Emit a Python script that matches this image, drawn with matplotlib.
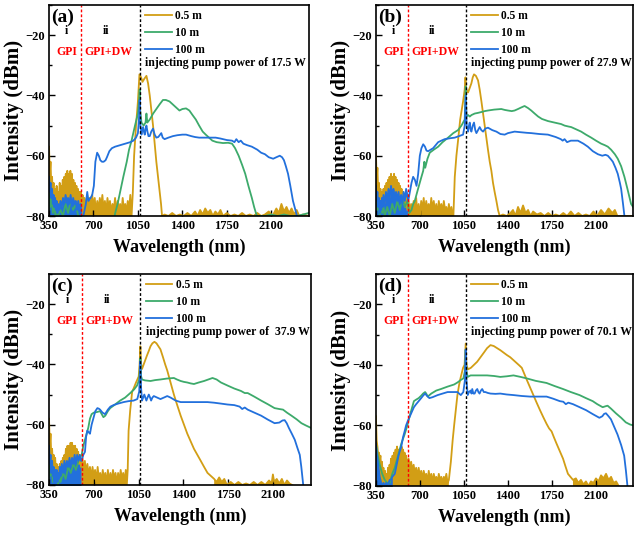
import numpy as np
import matplotlib
matplotlib.use('Agg')
import matplotlib.pyplot as plt
from matplotlib.ticker import MultipleLocator

plt.rcParams['font.family'] = ['Liberation Serif', 'DejaVu Serif']
plt.rcParams['font.weight'] = 'bold'
plt.rcParams['axes.labelweight'] = 'bold'

lengths = ['0.5 m', '10 m', '100 m']
colors = ['#D29E15', '#3DAA6B', '#2270DC']
tags = ['(a)', '(b)', '(c)', '(d)']
powers = ['17.5 W', '27.9 W', ' 37.9 W', '70.1 W']
xticks = [350, 700, 1050, 1400, 1750, 2100]
yticks = [-20, -40, -60, -80]

# (wavelength nm, intensity dBm)
a_gold = [(350, -57), (356, -66), (362, -62), (368, -70), (374, -67), (380, -73), (386, -69), (392, -75), (398, -71), (404, -74),
          (410, -70), (416, -76), (422, -72), (428, -74), (434, -69), (440, -73), (446, -70), (452, -72), (458, -68), (464, -71),
          (470, -67), (476, -70), (482, -66), (488, -69), (494, -65), (500, -68), (506, -66), (512, -70), (518, -65), (524, -69),
          (530, -66), (536, -71), (542, -68), (548, -72), (554, -69), (560, -73), (566, -70), (572, -74), (578, -71), (584, -75),
          (590, -72), (596, -76), (602, -72), (608, -77), (614, -73), (620, -76), (630, -74), (640, -78), (650, -73), (660, -77),
          (670, -74), (680, -78), (690, -73), (700, -77), (710, -74), (720, -79), (730, -75), (740, -78), (750, -74), (760, -77),
          (770, -73), (780, -78), (790, -75), (800, -79), (810, -74), (820, -77), (830, -75), (840, -79), (850, -76), (860, -78),
          (870, -74), (880, -79), (890, -75), (900, -78), (910, -76), (920, -79), (930, -74), (940, -78), (950, -76), (960, -79),
          (970, -75), (980, -78), (990, -73), (1000, -80), (1010, -72), (1020, -60), (1035, -50), (1050, -42), (1062, -33),
          (1075, -34), (1086, -35.5), (1100, -34.5), (1117, -33.5), (1130, -36), (1143, -40), (1156, -45), (1169, -50), (1182, -56),
          (1195, -62), (1208, -67), (1221, -72), (1232, -76), (1240, -80), (1260, -79.5), (1290, -80), (1320, -79), (1350, -80),
          (1380, -79.5), (1410, -80), (1440, -79), (1470, -80), (1500, -78.5), (1520, -80), (1540, -78), (1560, -79.5), (1580, -77.5),
          (1600, -79), (1620, -78), (1640, -80), (1660, -78.5), (1680, -79.5), (1700, -78), (1720, -80), (1750, -79), (1780, -80),
          (1810, -79.5), (1840, -80), (1870, -79), (1900, -80), (1930, -79.5), (1960, -80), (1990, -79), (2020, -80), (2050, -79.5),
          (2080, -78.5), (2110, -80), (2140, -77.5), (2160, -79), (2180, -76), (2200, -78.5), (2220, -77), (2240, -79), (2260, -77.5),
          (2280, -79.5), (2300, -78), (2320, -80), (2350, -79.5), (2395, -80)]
a_green = [(350, -70), (360, -77), (370, -74), (380, -79), (390, -76), (400, -80), (410, -77), (420, -80), (440, -78), (460, -80),
           (480, -76), (500, -79), (520, -75), (540, -78), (560, -76), (580, -80), (600, -80), (610, -84), (850, -84), (871, -79),
           (890, -76), (910, -72), (935, -67), (962, -62), (980, -58), (1000, -55), (1027, -50), (1050, -46), (1060, -41), (1064, -38),
           (1068, -45), (1078, -49), (1095, -50), (1110, -49), (1117, -46), (1124, -49), (1143, -48), (1170, -46), (1195, -44.5),
           (1220, -43), (1247, -41.5), (1270, -41.5), (1299, -42), (1325, -43), (1351, -44), (1377, -45), (1400, -44.5), (1429, -44.3),
           (1455, -45), (1480, -46.5), (1506, -48), (1532, -50), (1560, -52), (1584, -53), (1610, -54), (1636, -55), (1670, -55.5),
           (1720, -55.8), (1760, -55.7), (1791, -56), (1815, -57.5), (1843, -60), (1870, -63), (1895, -66), (1920, -70), (1947, -74),
           (1965, -77), (1986, -80), (2050, -80), (2100, -79.5), (2150, -80), (2200, -79.5), (2250, -80), (2300, -80), (2350, -79.5),
           (2395, -79)]
a_blue = [(350, -67), (356, -72), (362, -69), (368, -74), (374, -71), (380, -76), (386, -73), (392, -77), (398, -74), (404, -78),
          (410, -75), (416, -79), (422, -76), (430, -78), (440, -75), (450, -77), (460, -74), (470, -76), (480, -73), (490, -75),
          (500, -74), (510, -76), (520, -73), (530, -77), (540, -74), (550, -76), (560, -75), (570, -78), (580, -75), (590, -78),
          (600, -76), (605, -80), (620, -80), (640, -76), (651, -72), (660, -75), (677, -74), (690, -73), (703, -70), (715, -62),
          (729, -59), (742, -60), (754, -61.5), (767, -62), (780, -62), (795, -61.5), (806, -60.5), (825, -58.5), (845, -57.5),
          (870, -57), (910, -56.5), (950, -56), (990, -55.5), (1014, -55), (1035, -54), (1050, -52.5), (1058, -48), (1064, -41.5),
          (1070, -50), (1078, -53), (1085, -51), (1091, -50.5), (1097, -52), (1104, -53), (1111, -51), (1117, -50), (1125, -52),
          (1133, -53.5), (1143, -53.5), (1155, -52), (1169, -51), (1182, -53), (1195, -54), (1210, -53.8), (1225, -53), (1234, -52.5),
          (1245, -54), (1260, -54.5), (1290, -54), (1325, -53.5), (1360, -53.2), (1400, -53), (1429, -53), (1470, -53.5), (1500, -53.8),
          (1532, -54), (1580, -54), (1620, -54), (1662, -54), (1700, -54.3), (1750, -54.8), (1791, -55), (1810, -55.5), (1825, -54.5),
          (1843, -55.5), (1860, -55), (1880, -56), (1910, -56.5), (1947, -57), (1990, -58), (2020, -59), (2050, -59.5), (2080, -60.5),
          (2115, -61), (2140, -60.5), (2167, -60), (2185, -60.5), (2200, -61.5), (2215, -63.5), (2232, -66), (2250, -70), (2271, -75),
          (2290, -78), (2302, -80), (2320, -84)]

b_gold = [(350, -59), (356, -68), (362, -64), (368, -72), (374, -69), (380, -75), (386, -71), (392, -76), (398, -72), (404, -75),
          (410, -71), (416, -74), (422, -70), (428, -73), (434, -69), (440, -72), (446, -68), (452, -71), (458, -67), (464, -70),
          (470, -66), (476, -69), (482, -67), (488, -70), (494, -66), (500, -69), (506, -67), (512, -71), (518, -68), (524, -72),
          (530, -69), (536, -73), (542, -70), (548, -74), (554, -71), (560, -75), (566, -72), (572, -76), (578, -73), (584, -77),
          (590, -74), (600, -78), (610, -75), (620, -79), (630, -76), (640, -79), (650, -75), (660, -78), (670, -74), (680, -79),
          (690, -76), (700, -80), (710, -75), (720, -78), (730, -74), (740, -79), (750, -75), (760, -78), (770, -76), (780, -79),
          (790, -74), (800, -78), (810, -75), (820, -79), (830, -76), (840, -80), (850, -75), (860, -78), (870, -76), (880, -79),
          (890, -75), (900, -78), (910, -77), (920, -80), (930, -76), (940, -79), (950, -77), (960, -80), (966, -80), (977, -67),
          (990, -60), (1003, -55), (1020, -48), (1043, -42), (1056, -38), (1062, -34), (1068, -38), (1083, -39), (1096, -37.5),
          (1109, -36), (1120, -34), (1130, -33), (1145, -33.5), (1162, -35), (1175, -38), (1189, -42), (1202, -46), (1215, -50),
          (1228, -54), (1241, -58), (1255, -62), (1268, -65), (1281, -69), (1294, -72), (1308, -75), (1321, -78), (1334, -80),
          (1360, -79.5), (1390, -80), (1420, -79), (1440, -78), (1460, -80), (1480, -77), (1500, -79), (1520, -76.5), (1540, -79),
          (1560, -78), (1580, -80), (1600, -78.5), (1630, -79.5), (1660, -79), (1690, -80), (1720, -79), (1750, -80), (1780, -79.5),
          (1810, -80), (1840, -79), (1870, -80), (1900, -78.5), (1930, -80), (1960, -79), (1990, -80), (2020, -79.5), (2050, -80),
          (2080, -78.5), (2110, -80), (2140, -78), (2170, -79.5), (2200, -77.5), (2230, -79), (2250, -78), (2270, -80), (2395, -80)]
b_green = [(350, -72), (360, -78), (370, -75), (380, -80), (390, -76), (400, -79), (410, -77), (420, -80), (440, -77), (460, -80),
           (480, -76), (500, -79), (520, -75), (540, -78), (560, -74), (580, -77), (600, -75), (615, -79), (633, -78), (646, -76),
           (659, -75), (685, -71), (712, -67), (726, -65), (735, -62), (742, -64), (760, -61), (778, -59), (810, -58), (845, -57),
           (880, -55.5), (924, -54), (965, -52.5), (1003, -51.5), (1030, -50), (1056, -48), (1064, -37), (1070, -47), (1083, -46.5),
           (1096, -47), (1110, -46.5), (1136, -46), (1160, -45.8), (1189, -45.5), (1215, -45.2), (1241, -45), (1290, -44.7),
           (1347, -44.5), (1374, -44.8), (1400, -45), (1430, -45.2), (1453, -45), (1480, -44.5), (1505, -44), (1532, -43.5),
           (1560, -44.2), (1585, -45), (1612, -46), (1640, -47), (1670, -47.8), (1718, -48.5), (1770, -49), (1823, -49.5), (1850, -50),
           (1880, -50.3), (1903, -50.5), (1940, -51.2), (1982, -52), (2020, -53), (2062, -54), (2100, -55), (2141, -56), (2170, -56.5),
           (2194, -57), (2220, -58), (2250, -59.5), (2273, -61), (2300, -63.5), (2326, -67), (2350, -71), (2379, -76), (2395, -77)]
b_blue = [(350, -70), (356, -75), (362, -72), (368, -77), (374, -74), (380, -79), (386, -75), (392, -78), (398, -74), (404, -77),
          (410, -73), (420, -76), (430, -72), (440, -75), (450, -71), (460, -74), (470, -70), (480, -73), (490, -71), (500, -74),
          (510, -72), (520, -75), (530, -72), (540, -76), (550, -73), (560, -76), (570, -72), (580, -75), (590, -71), (600, -73),
          (607, -75), (620, -72), (633, -69), (646, -67), (660, -68), (673, -70), (686, -66), (699, -60), (712, -57.5), (726, -56.2),
          (740, -57), (752, -58.3), (765, -58.5), (785, -58), (805, -57.5), (825, -56.5), (845, -55.5), (870, -55), (897, -54.5),
          (940, -54.2), (977, -54), (1010, -53.5), (1043, -53), (1056, -50), (1064, -40), (1072, -50), (1083, -52), (1090, -50),
          (1096, -49), (1102, -51), (1109, -52), (1120, -50), (1130, -49), (1140, -51.5), (1149, -52.5), (1162, -51.5), (1175, -50.5),
          (1188, -51.5), (1202, -52), (1220, -51), (1241, -50.7), (1275, -51.5), (1308, -52), (1340, -52.8), (1374, -53), (1400, -52.5),
          (1453, -52), (1500, -52.2), (1550, -52.4), (1585, -52.5), (1650, -52.8), (1718, -53), (1780, -53.8), (1820, -54.5),
          (1835, -55), (1850, -54.5), (1870, -55.5), (1900, -55), (1956, -55), (2000, -56), (2035, -57), (2075, -58.5), (2115, -59.5),
          (2150, -60), (2175, -59.7), (2194, -60), (2215, -61), (2234, -62), (2255, -64), (2273, -66), (2290, -69), (2300, -71),
          (2315, -76), (2326, -80), (2340, -84)]

c_gold = [(350, -58), (356, -67), (362, -63), (368, -71), (374, -68), (380, -73), (386, -70), (392, -75), (398, -71), (404, -76),
          (410, -73), (416, -77), (422, -74), (428, -78), (434, -73), (440, -76), (446, -72), (452, -75), (458, -71), (464, -74),
          (470, -70), (476, -72), (482, -68), (488, -71), (494, -67), (500, -70), (506, -67), (512, -69), (518, -66), (524, -68),
          (530, -66), (536, -69), (542, -67), (548, -70), (554, -67), (560, -71), (566, -68), (572, -72), (578, -69), (584, -73),
          (590, -70), (600, -74), (610, -71), (620, -75), (630, -72), (640, -76), (650, -73), (660, -77), (670, -74), (680, -78),
          (690, -74), (700, -77), (710, -75), (720, -79), (730, -74), (740, -78), (750, -76), (760, -79), (770, -75), (780, -78),
          (790, -76), (800, -80), (810, -75), (820, -79), (830, -76), (840, -79), (850, -75), (860, -78), (870, -76), (880, -80),
          (890, -76), (900, -79), (910, -75), (920, -78), (930, -76), (940, -79), (950, -75), (958, -80), (965, -75), (972, -62),
          (985, -55), (1000, -49), (1011, -48), (1030, -46), (1051, -44), (1058, -40), (1064, -34), (1070, -40), (1077, -41.5),
          (1090, -40), (1103, -38.5), (1116, -37), (1130, -35.5), (1143, -34), (1158, -33), (1174, -32.5), (1190, -33), (1205, -34),
          (1221, -35), (1240, -37.5), (1258, -40), (1274, -42), (1300, -46), (1326, -50), (1352, -53.5), (1379, -57), (1405, -60),
          (1431, -63), (1457, -65.5), (1483, -68), (1510, -70), (1536, -72), (1562, -74), (1589, -76), (1615, -77), (1641, -78),
          (1660, -79), (1680, -77.5), (1700, -79), (1720, -78), (1740, -80), (1770, -79), (1800, -80), (1830, -79), (1860, -80),
          (1890, -79.5), (1920, -80), (1950, -79), (1980, -80), (2010, -79), (2040, -80), (2070, -78.5), (2090, -79.5), (2100, -76.5),
          (2110, -79), (2130, -78), (2150, -79.5), (2170, -78), (2190, -80), (2210, -78.5), (2230, -79.5), (2250, -80), (2395, -84)]
c_green = [(350, -72), (360, -77), (370, -74), (380, -79), (390, -75), (400, -78), (410, -76), (420, -80), (430, -77), (440, -79),
           (460, -76), (480, -78), (500, -74), (520, -76), (540, -73), (560, -75), (580, -72), (605, -70), (618, -67), (631, -65),
           (644, -63), (657, -61), (670, -58), (683, -56.5), (700, -56), (725, -55.8), (749, -55.5), (762, -56.5), (775, -57.5),
           (790, -57), (810, -55.5), (828, -54.5), (860, -53.5), (906, -52), (945, -51), (985, -49.5), (1015, -48.3), (1038, -47),
           (1055, -45), (1064, -38), (1070, -44), (1077, -45), (1100, -45.3), (1143, -45.5), (1180, -45.2), (1221, -45), (1270, -44.7),
           (1326, -44.5), (1350, -45), (1379, -45.5), (1405, -45.8), (1431, -46), (1457, -46.3), (1483, -46.5), (1520, -46),
           (1562, -45.5), (1595, -45), (1628, -44.5), (1660, -45), (1694, -46), (1745, -47), (1798, -48), (1850, -48.8), (1880, -49.5),
           (1903, -49.5), (1955, -50.7), (2008, -52), (2060, -53.2), (2113, -54.5), (2150, -54.8), (2179, -55), (2210, -56),
           (2245, -57), (2285, -58.2), (2323, -59.5), (2360, -60.3), (2395, -61)]
c_blue = [(350, -67), (356, -73), (362, -70), (368, -76), (374, -72), (380, -77), (386, -74), (392, -79), (398, -75), (404, -78),
          (410, -75), (416, -79), (422, -76), (428, -78), (434, -74), (440, -77), (450, -73), (460, -76), (470, -72), (480, -75),
          (490, -72), (500, -74), (510, -71), (520, -74), (530, -71), (540, -73), (550, -70), (560, -73), (570, -70), (580, -72),
          (590, -70), (600, -72), (605, -72), (618, -70), (631, -69), (640, -64), (649, -62), (660, -62.5), (670, -63), (683, -60),
          (696, -58), (712, -55.5), (728, -54.5), (740, -54.7), (749, -55), (768, -56), (788, -56.5), (810, -55), (830, -54),
          (854, -53.5), (890, -53), (933, -52.5), (970, -52.2), (1011, -52), (1040, -51.5), (1055, -49), (1064, -39), (1070, -48),
          (1077, -52), (1086, -51), (1095, -50), (1103, -51), (1111, -52), (1120, -51), (1130, -50), (1140, -51), (1148, -52),
          (1158, -51), (1169, -50.5), (1195, -51), (1221, -51.5), (1248, -51), (1274, -50.5), (1300, -51), (1340, -52), (1379, -52.5),
          (1430, -52.5), (1483, -52.5), (1540, -52.5), (1589, -52.5), (1640, -52.7), (1694, -53), (1745, -53.3), (1798, -53.5),
          (1840, -54), (1860, -54.8), (1880, -54.3), (1903, -55), (1955, -56), (2008, -57), (2060, -58.3), (2113, -59.5),
          (2150, -59.3), (2175, -58.6), (2192, -58.5), (2208, -59.5), (2224, -61), (2248, -63), (2271, -65), (2290, -67.5),
          (2310, -70), (2322, -74), (2337, -80), (2350, -84)]

d_gold = [(350, -57), (356, -65), (362, -67), (368, -70), (374, -69), (380, -72), (386, -70), (392, -74), (398, -72), (404, -76),
          (410, -74), (416, -78), (422, -75), (428, -79), (434, -76), (440, -78), (446, -74), (452, -77), (458, -73), (464, -75),
          (470, -71), (476, -74), (482, -70), (488, -73), (494, -69), (500, -72), (506, -68), (512, -71), (518, -67), (524, -70),
          (530, -68), (536, -71), (542, -68), (548, -70), (554, -67), (560, -70), (566, -68), (572, -71), (578, -69), (584, -72),
          (590, -70), (600, -73), (610, -71), (620, -74), (630, -72), (640, -75), (650, -73), (660, -76), (670, -74), (680, -77),
          (690, -74), (700, -77), (710, -75), (720, -78), (730, -75), (740, -77), (750, -76), (760, -79), (770, -75), (780, -78),
          (790, -76), (800, -79), (810, -76), (820, -78), (830, -77), (840, -79), (850, -76), (860, -78), (870, -77), (880, -79),
          (890, -77), (900, -78), (910, -76), (920, -79), (930, -78), (946, -72), (960, -65), (972, -60), (985, -55), (998, -50),
          (1012, -46.5), (1025, -44), (1043, -41), (1055, -40), (1064, -33), (1070, -40), (1082, -41.5), (1105, -41), (1130, -40),
          (1155, -39), (1182, -37.5), (1208, -36), (1234, -34.5), (1261, -33.5), (1287, -33.8), (1313, -34.5), (1340, -35.2),
          (1366, -36), (1392, -36.8), (1418, -37.5), (1445, -38.5), (1471, -39.5), (1490, -40.2), (1510, -41), (1530, -43),
          (1550, -45), (1576, -47.5), (1602, -50), (1628, -52.5), (1655, -55), (1681, -57.3), (1707, -59.5), (1727, -61), (1747, -62),
          (1766, -64), (1786, -66), (1812, -68.5), (1838, -71), (1857, -73.5), (1877, -76), (1897, -77), (1917, -78), (1940, -77.5),
          (1960, -79), (1980, -78), (2000, -79.5), (2020, -78.5), (2040, -80), (2060, -78.5), (2080, -79), (2100, -77.5),
          (2120, -78.5), (2140, -76.5), (2160, -77.5), (2180, -76), (2200, -78), (2220, -77), (2240, -79), (2260, -78.5),
          (2280, -80), (2395, -84)]
d_green = [(350, -66), (365, -70), (380, -73), (400, -76), (420, -78), (440, -79), (460, -79), (480, -76), (500, -74), (526, -70),
           (552, -66), (578, -63), (600, -60), (618, -57), (635, -54.5), (652, -52), (670, -51.5), (690, -51), (710, -50.2),
           (725, -49.5), (741, -49), (750, -49.5), (762, -50.5), (790, -49.5), (830, -48.5), (867, -48), (920, -47.2), (972, -46.5),
           (1000, -45.8), (1025, -45), (1045, -44.5), (1058, -42), (1064, -35), (1070, -42), (1080, -44), (1103, -43.5), (1170, -43.5),
           (1234, -43.5), (1290, -43.7), (1339, -44), (1390, -43.8), (1444, -43.5), (1500, -44), (1550, -44.5), (1620, -45.3),
           (1707, -46), (1770, -47), (1838, -48), (1900, -49), (1969, -50), (2020, -51), (2074, -52), (2110, -53), (2153, -54),
           (2175, -53.7), (2192, -53.5), (2220, -54.5), (2258, -56), (2300, -57.5), (2337, -59), (2370, -59.7), (2395, -60)]
d_blue = [(350, -66), (356, -69), (362, -71), (368, -73), (374, -75), (380, -77), (386, -78), (392, -79), (400, -80), (410, -79),
          (420, -80), (430, -79), (440, -80), (450, -79), (460, -78), (470, -78), (480, -77), (490, -76.5), (500, -76), (510, -74),
          (520, -72), (530, -70), (540, -68.5), (552, -67), (565, -64), (578, -62), (590, -60), (604, -58.5), (620, -57), (636, -55.5),
          (652, -54), (670, -53), (690, -52), (710, -51), (725, -50.2), (741, -49.5), (755, -50.2), (775, -51), (800, -50.7),
          (841, -50), (880, -49.5), (920, -49), (960, -49), (998, -49), (1025, -50), (1045, -49), (1058, -45), (1064, -35),
          (1070, -45), (1080, -50), (1090, -49), (1103, -48.5), (1110, -49.5), (1116, -48), (1125, -49.5), (1135, -49.5),
          (1145, -48.5), (1156, -48), (1165, -49), (1174, -49.5), (1185, -48.5), (1195, -48), (1208, -49), (1221, -49), (1240, -49.3),
          (1261, -49.5), (1300, -49.6), (1339, -49.5), (1390, -49.8), (1444, -50), (1510, -50.3), (1576, -50.5), (1640, -50.5),
          (1707, -50.5), (1760, -51.2), (1812, -52), (1840, -52.2), (1860, -53), (1880, -52.5), (1917, -53), (1970, -54), (2022, -55),
          (2075, -56.3), (2127, -57.5), (2150, -57), (2165, -56.2), (2179, -56), (2200, -57), (2219, -58), (2245, -60.5), (2271, -63),
          (2300, -66.5), (2324, -70), (2338, -75), (2350, -80), (2360, -84)]

panels = [(a_gold, a_green, a_blue), (b_gold, b_green, b_blue), (c_gold, c_green, c_blue), (d_gold, d_green, d_blue)]
# where the noisy parts look solid: gold below / above, green below, blue below
gold_noise = [(1000, 1240), (966, 1334), (958, 1641), (930, 1917)]
green_noise = [600, 600, 600, 0]
blue_noise = [605, 600, 600, 480]

boxes = [[0.0772, 0.5955, 0.409, 0.3951], [0.592, 0.5955, 0.405, 0.3951],
         [0.0772, 0.0918, 0.412, 0.3951], [0.592, 0.0900, 0.405, 0.3970]]

fig = plt.figure(figsize=(6.35, 5.34), dpi=100)

for k in range(4):
    ax = fig.add_axes(boxes[k])
    gold, green, blue = [np.array(c, dtype=float) for c in panels[k]]
    g0, g1 = gold_noise[k]
    ax.fill_between(gold[:, 0], gold[:, 1], -85, where=(gold[:, 0] <= g0) | (gold[:, 0] >= g1),
                    color=colors[0], lw=0)
    ax.plot(gold[:, 0], gold[:, 1], color=colors[0], lw=1.3, label=lengths[0])
    if green_noise[k]:
        ax.fill_between(green[:, 0], green[:, 1], -85, where=green[:, 0] <= green_noise[k],
                        color=colors[1], lw=0)
    ax.plot(green[:, 0], green[:, 1], color=colors[1], lw=1.3, label=lengths[1])
    ax.fill_between(blue[:, 0], blue[:, 1], -85, where=blue[:, 0] <= blue_noise[k],
                    color=colors[2], lw=0)
    ax.plot(blue[:, 0], blue[:, 1], color=colors[2], lw=1.3, label=lengths[2])

    ax.axvline(605, color='red', ls=(0, (2, 1.5)), lw=1.0)
    ax.axvline(1064, color='black', ls=(0, (2, 1.5)), lw=1.0)

    ax.set_xlim(350, 2395)
    ax.set_ylim(-80, -10)
    ax.set_xticks(xticks)
    ax.set_yticks(yticks)
    ax.yaxis.set_minor_locator(MultipleLocator(10))
    ax.tick_params(which='both', direction='in', labelsize=9, width=1.0)
    ax.tick_params(axis='x', which='major', length=4, pad=3)
    ax.tick_params(axis='y', which='major', length=4, pad=3)
    ax.tick_params(which='minor', length=2.5)
    for s in ax.spines.values():
        s.set_linewidth(1.2)
    ax.set_xlabel('Wavelength (nm)', fontsize=13, labelpad=5)
    ax.set_ylabel('Intensity (dBm)', fontsize=15, labelpad=1)

    ax.text(368, -14.0, tags[k], fontsize=14, va='center', ha='left')
    ax.text(490, -18.7, 'i', fontsize=8.5, ha='center', va='center')
    ax.text(800, -18.7, 'ii', fontsize=8.5, ha='center', va='center')
    ax.text(490, -25.6, 'GPI', fontsize=8.5, color='red', ha='center', va='center')
    ax.text(820, -25.6, 'GPI+DW', fontsize=8.5, color='red', ha='center', va='center')
    ax.text(1105, -29.2, 'injecting pump power of ' + powers[k], fontsize=8.5, ha='left', va='center')
    ax.legend(loc='upper left', bbox_to_anchor=(0.37, 0.975), frameon=False, fontsize=8.3,
              handlelength=2.3, handletextpad=0.3, labelspacing=0.42, borderaxespad=0, borderpad=0)

fig.savefig('out.png', dpi=100)
